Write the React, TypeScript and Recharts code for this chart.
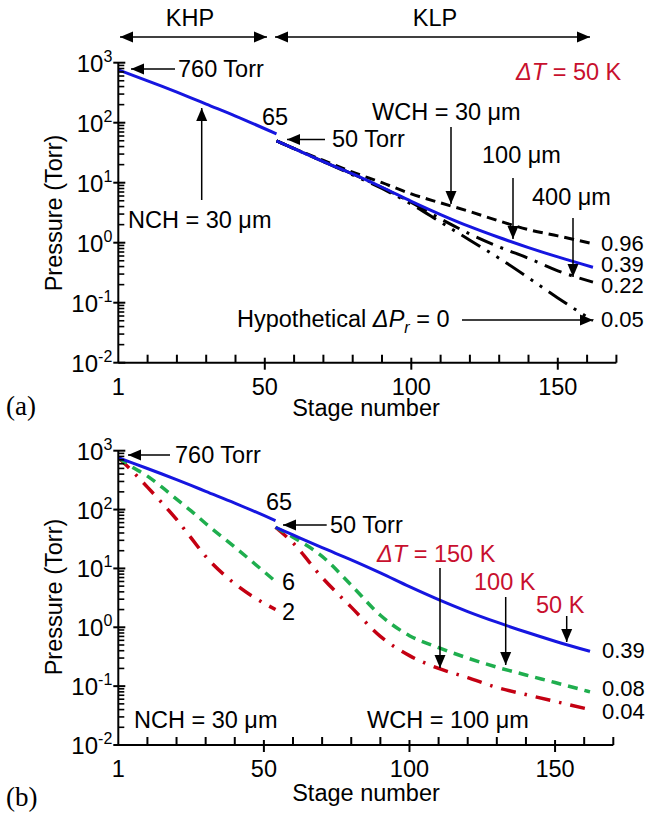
import { LineChart, Line, XAxis, YAxis } from 'recharts';

// stage positions (0 is drawn as stage "1")
const khpStages = [0, 5, 10, 15, 20, 25, 30, 40, 54];
const klpStages = [54, 60, 70, 80, 90, 100, 110, 120, 130, 140, 150, 162];

// (a) and (b): dT = 50 K, NCH = 30 um, WCH = 100 um
const baseKhp = [760, 617, 499, 402, 322, 257, 204, 129, 65];
const baseKlp = [50, 37, 22.5, 14, 8.4, 4.9, 2.95, 1.85, 1.22, 0.83, 0.58, 0.39];
// (a) other WCH values
const wch30Klp = [50, 37, 23.5, 15, 10, 6.5, 4.6, 3.3, 2.3, 1.65, 1.3, 0.96];
const wch400Klp = [50, 37, 22.5, 14, 8.3, 4.7, 2.5, 1.4, 0.85, 0.55, 0.34, 0.22];
const idealKlp = [50, 37, 22.5, 13.5, 8, 4.4, 2.2, 1.1, 0.55, 0.26, 0.12, 0.05];
// (b) other dT values
const dt100Khp = [760, 520, 370, 240, 150, 95, 58, 23, 6];
const dt100Klp = [50, 34, 16, 5.2, 1.6, 0.72, 0.45, 0.3, 0.21, 0.155, 0.115, 0.08];
const dt150Khp = [760, 440, 240, 130, 68, 33, 16, 5.5, 2];
const dt150Klp = [50, 27, 7, 2.2, 0.7, 0.33, 0.2, 0.14, 0.095, 0.072, 0.055, 0.04];

const stageTicks = [0, 10, 20, 30, 40, 50, 60, 70, 80, 90, 100, 110, 120, 130, 140, 150, 160, 170];
const stageLabels: Record<number, string> = { 0: '1', 50: '50', 100: '100', 150: '150' };
const decades = [0.01, 0.1, 1, 10, 100, 1000];
const minorSteps = [2, 3, 4, 5, 6, 7, 8, 9];
const pressureTicks = decades.concat(
  decades.slice(0, -1).flatMap((d) => minorSteps.map((m) => m * d)),
);

const FONT = '"Liberation Sans", Arial, sans-serif';
const FS = 23.5;
const BLUE = '#1616e0';
const GREEN = '#1fae4e';
const RED = '#c40012';
const RED_TXT = '#c8102e';

const pts = (xs: number[], ys: number[]) => xs.map((s, i) => ({ s, p: ys[i] }));

const YTick = (props: any) => {
  const { x, y, payload } = props;
  const v = payload.value;
  if (!decades.includes(v)) {
    return <line x1={x} x2={x + 6} y1={y} y2={y} stroke="#000" strokeWidth={1.6} />;
  }
  const exp = Math.round(Math.log10(v));
  return (
    <g>
      <line x1={x - 5} x2={x + 7} y1={y} y2={y} stroke="#000" strokeWidth={2} />
      <text x={x - 6} y={y + 9} textAnchor="end" fontFamily={FONT} fontSize={24} fill="#000">
        10<tspan dy={-10} fontSize={16}>{exp}</tspan>
      </text>
    </g>
  );
};

const XTick = (props: any) => {
  const { x, y, payload } = props;
  const v = payload.value;
  const major = v % 50 === 0;
  return (
    <g>
      {v !== 0 && (
        <line x1={x} x2={x} y1={major ? y - 5 : y - 8} y2={major ? y + 7 : y} stroke="#000" strokeWidth={2} />
      )}
      {stageLabels[v] && (
        <text x={x} y={y + 32} textAnchor="middle" fontFamily={FONT} fontSize={FS} fill="#000">
          {stageLabels[v]}
        </text>
      )}
    </g>
  );
};

function Arrow({ x1, y1, x2, y2, both }: { x1: number; y1: number; x2: number; y2: number; both?: boolean }) {
  const head = (x: number, y: number, a: number) => {
    const L = 13;
    const W = 5.5;
    const bx = x - L * Math.cos(a);
    const by = y - L * Math.sin(a);
    return `${x},${y} ${bx + W * Math.sin(a)},${by - W * Math.cos(a)} ${bx - W * Math.sin(a)},${by + W * Math.cos(a)}`;
  };
  const a = Math.atan2(y2 - y1, x2 - x1);
  return (
    <g>
      <line x1={x1} y1={y1} x2={x2} y2={y2} stroke="#000" strokeWidth={1.5} />
      <polygon points={head(x2, y2, a)} fill="#000" />
      {both && <polygon points={head(x1, y1, a + Math.PI)} fill="#000" />}
    </g>
  );
}

function T({ x, y, children, fill = '#000', anchor = 'start', size = FS }: any) {
  return (
    <text x={x} y={y} fontFamily={FONT} fontSize={size} fill={fill} textAnchor={anchor}>
      {children}
    </text>
  );
}

function Panel({ top, height, right, plotH, children }: any) {
  return (
    <div style={{ position: 'absolute', left: 0, top }}>
      <LineChart width={649} height={height} margin={{ top: 62.7, right, left: 58.3, bottom: height - 62.7 - 40 - plotH }}>
        <XAxis
          dataKey="s"
          type="number"
          domain={[0, 170]}
          ticks={stageTicks}
          interval={0}
          tick={<XTick />}
          tickLine={false}
          tickSize={0}
          tickMargin={0}
          axisLine={{ stroke: '#000', strokeWidth: 2 }}
          height={40}
          allowDataOverflow
        />
        <YAxis
          type="number"
          scale="log"
          domain={[0.01, 1000]}
          ticks={pressureTicks}
          interval={0}
          tick={<YTick />}
          tickLine={false}
          tickSize={0}
          tickMargin={0}
          axisLine={{ stroke: '#000', strokeWidth: 2 }}
          width={60}
          allowDataOverflow
        />
        {children}
      </LineChart>
    </div>
  );
}

export default function App() {
  const line = (key: string, data: any[], stroke: string, dash?: string, w = 3) => (
    <Line
      key={key}
      name={key}
      data={data}
      dataKey="p"
      type="monotone"
      stroke={stroke}
      strokeWidth={w}
      strokeDasharray={dash}
      dot={false}
      activeDot={false}
      isAnimationActive={false}
    />
  );

  return (
    <div style={{ position: 'absolute', left: 0, top: 0, width: 649, height: 818, background: '#fff' }}>
      <Panel top={0} height={410} right={32.6} plotH={300}>
        {line('wch30', pts(klpStages, wch30Klp), '#000', '10 6', 3)}
        {line('wch400', pts(klpStages, wch400Klp), '#000', '18 8 3 8', 3)}
        {line('ideal', pts(klpStages, idealKlp), '#000', '22 8 3 8 3 8', 3)}
        {line('khp', pts(khpStages, baseKhp), BLUE, undefined, 3)}
        {line('klp', pts(klpStages, baseKlp), BLUE, undefined, 3)}
      </Panel>
      <Panel top={388} height={430} right={35.7} plotH={294.3}>
        {line('r1', pts(khpStages, dt150Khp), RED, '15 9 2.5 9', 3.5)}
        {line('r2', pts(klpStages, dt150Klp), RED, '15 9 2.5 9', 3.5)}
        {line('g1', pts(khpStages, dt100Khp), GREEN, '10 7', 3.5)}
        {line('g2', pts(klpStages, dt100Klp), GREEN, '10 7', 3.5)}
        {line('b1', pts(khpStages, baseKhp), BLUE, undefined, 3)}
        {line('b2', pts(klpStages, baseKlp), BLUE, undefined, 3)}
      </Panel>

      <svg width={649} height={818} style={{ position: 'absolute', left: 0, top: 0, pointerEvents: 'none' }}>
        {/* panel (a) */}
        <T x={190} y={26} anchor="middle">KHP</T>
        <T x={435} y={26} anchor="middle">KLP</T>
        <Arrow x1={120} y1={37} x2={267} y2={37} both />
        <Arrow x1={275} y1={37} x2={590} y2={37} both />
        <T x={516} y={80} fill={RED_TXT}>
          <tspan fontStyle="italic">ΔT</tspan> = 50 K
        </T>
        <Arrow x1={175} y1={69} x2={131} y2={69} />
        <T x={178} y={77}>760 Torr</T>
        <T x={262} y={125}>65</T>
        <Arrow x1={325} y1={139.5} x2={287} y2={139.5} />
        <T x={332} y={147}>50 Torr</T>
        <Arrow x1={201.7} y1={200} x2={201.7} y2={108} />
        <T x={128} y={228}>NCH = 30 μm</T>
        <T x={372} y={120}>WCH = 30 μm</T>
        <Arrow x1={451} y1={127} x2={451} y2={204} />
        <T x={482} y={163}>100 μm</T>
        <Arrow x1={513} y1={178} x2={513} y2={239} />
        <T x={532} y={205}>400 μm</T>
        <Arrow x1={573} y1={218} x2={573} y2={277} />
        <T x={601} y={251} size={22}>0.96</T>
        <T x={601} y={272} size={22}>0.39</T>
        <T x={601} y={293} size={22}>0.22</T>
        <T x={601} y={327} size={22}>0.05</T>
        <T x={237} y={327}>
          Hypothetical <tspan fontStyle="italic">ΔP</tspan>
          <tspan fontStyle="italic" fontSize={16} dy={6}>r</tspan>
          <tspan dy={-6}> = 0</tspan>
        </T>
        <Arrow x1={462} y1={320} x2={593} y2={320} />
        <T x={366} y={416} anchor="middle">Stage number</T>
        <text x={62} y={213} transform="rotate(-90 62 213)" textAnchor="middle" fontFamily={FONT} fontSize={FS}>
          Pressure (Torr)
        </text>
        <text x={6} y={415} fontFamily='"Liberation Serif", "Times New Roman", serif' fontSize={27}>(a)</text>

        {/* panel (b) */}
        <Arrow x1={170} y1={455} x2={128} y2={455} />
        <T x={175} y={463}>760 Torr</T>
        <T x={266} y={510}>65</T>
        <Arrow x1={326.7} y1={525} x2={283} y2={525} />
        <T x={330} y={533}>50 Torr</T>
        <T x={282} y={590}>6</T>
        <T x={282} y={620}>2</T>
        <T x={377} y={562} fill={RED_TXT}>
          <tspan fontStyle="italic">ΔT</tspan> = 150 K
        </T>
        <Arrow x1={440} y1={568} x2={440} y2={668} />
        <T x={474} y={590} fill={RED_TXT}>100 K</T>
        <Arrow x1={505.7} y1={597} x2={505.7} y2={665} />
        <T x={536} y={613} fill={RED_TXT}>50 K</T>
        <Arrow x1={566.7} y1={616} x2={566.7} y2={642} />
        <T x={602} y={658} size={22}>0.39</T>
        <T x={602} y={696} size={22}>0.08</T>
        <T x={602} y={719} size={22}>0.04</T>
        <T x={134} y={728}>NCH = 30 μm</T>
        <T x={367} y={728}>WCH = 100 μm</T>
        <T x={366} y={801} anchor="middle">Stage number</T>
        <text x={62} y={597} transform="rotate(-90 62 597)" textAnchor="middle" fontFamily={FONT} fontSize={FS}>
          Pressure (Torr)
        </text>
        <text x={6} y={806} fontFamily='"Liberation Serif", "Times New Roman", serif' fontSize={27}>(b)</text>
      </svg>
    </div>
  );
}
